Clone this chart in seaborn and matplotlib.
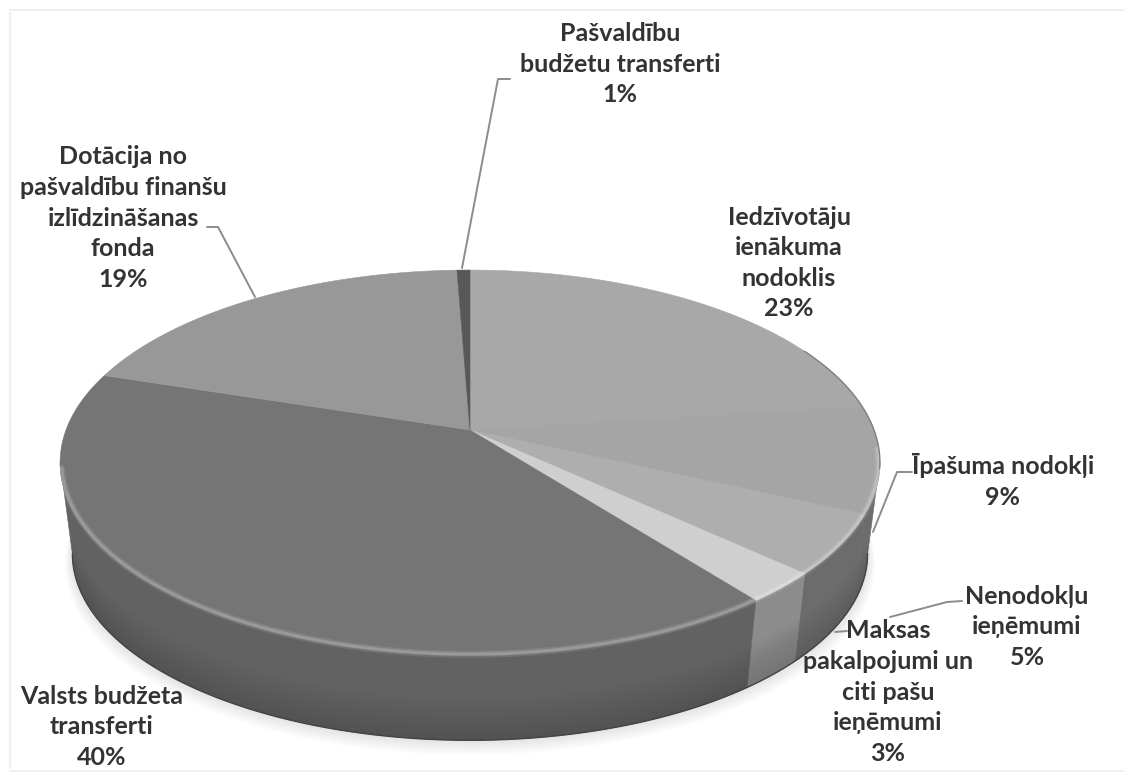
import numpy as np
import pandas as pd

import matplotlib
matplotlib.use('Agg')
import matplotlib.pyplot as plt
import seaborn as sns

# slices, clockwise from the top
categories = ['Iedzīvotāju\nienākuma\nnodoklis', 'Īpašuma nodokļi', 'Nenodokļu\nieņēmumi',
              'Maksas\npakalpojumi un\nciti pašu\nieņēmumi', 'Valsts budžeta\ntransferti',
              'Dotācija no\npašvaldību finanšu\nizlīdzināšanas\nfonda', 'Pašvaldību\nbudžetu transferti']
values = [22.9, 9.0, 5.0, 2.6, 40.45, 19.45, 0.6]

top_colors = ['#a8a8a8', '#a5a5a5', '#aeaeae', '#cfcfcf', '#757575', '#989898', '#585858']
wall_colors = ['#6c6c6c', '#6c6c6c', '#6c6c6c', '#8c8c8c', '#626262', '#626262', '#626262']

label_x = [789, 1003, 1027, 888, 102, 123, 620]
label_y = [263, 481, 627, 692, 727, 218, 64]

sns.set_theme(style='white')
plt.rcParams['font.family'] = ['Lato', 'DejaVu Sans']

df = pd.DataFrame({'name': categories, 'value': values})
df['start'] = df['value'].cumsum().shift(fill_value=0) / df['value'].sum() * 2 * np.pi
df['end'] = df['value'].cumsum() / df['value'].sum() * 2 * np.pi

cx, cy = 470, 430
rx, ry, persp = 404, 187, 0.169
depth = 92
shrink = 0.97


def project(theta, s=1.0, drop=0.0):
    u = np.sin(theta)
    v = np.cos(theta)
    d = 1 + persp * v
    return cx + s * rx * u / d, cy + drop - s * ry * v / d


fig, ax = plt.subplots(figsize=(11.29, 7.73), dpi=100)
ax.set_position([0, 0, 1, 1])
ax.set_xlim(0, 1129)
ax.set_ylim(773, 0)
ax.axis('off')

# faint scan border
ax.plot([10, 10], [12, 768], color='#ececec', lw=1.2)
ax.plot([10, 1124], [10, 10], color='#ececec', lw=1.2)
ax.plot([10, 1124], [771, 771], color='#eeeeee', lw=1.2)

# soft shadow under the pie
t = np.linspace(0, 2 * np.pi, 400)
for i in range(10):
    sx, sy = project(t, shrink + i * 0.002, depth + i * 1.2)
    ax.fill(sx, sy, color='black', alpha=0.012, lw=0)

# side wall, only the part facing the viewer
lo, hi = np.pi / 2 + 0.17, 3 * np.pi / 2 - 0.17
for i, row in df.iterrows():
    a = max(row['start'], lo)
    b = min(row['end'], hi)
    if b <= a:
        continue
    t = np.linspace(a, b, 120)
    x1, y1 = project(t)
    x2, y2 = project(t, shrink, depth)
    ax.fill(np.r_[x1, x2[::-1]], np.r_[y1, y2[::-1]], color=wall_colors[i], lw=0.4,
            edgecolor=wall_colors[i])

# a bit darker towards the bottom edge
t = np.linspace(lo, hi, 300)
x1, y1 = project(t)
x2, y2 = project(t, shrink, depth)
for f in np.linspace(0.5, 0.98, 16):
    x3, y3 = x1 + (x2 - x1) * f, y1 + (y2 - y1) * f
    ax.fill(np.r_[x3, x2[::-1]], np.r_[y3, y2[::-1]], color='black', alpha=0.006, lw=0)
ax.plot(x2, y2, color='#444444', lw=1.0)

# top face
for i, row in df.iterrows():
    t = np.linspace(row['start'], row['end'], 200)
    x, y = project(t)
    ax.fill(np.r_[cx, x], np.r_[cy, y], color=top_colors[i], lw=0.4, edgecolor=top_colors[i])

# light bevel along the front rim
t = np.linspace(np.pi / 2 + 0.1, 3 * np.pi / 2 - 0.2, 300)
for s, w, al in [(0.997, 5, 0.10), (0.997, 2.5, 0.18)]:
    ax.plot(*project(t, s), color='white', lw=w, alpha=al, solid_capstyle='round')

# dark edge on the back right of the top face
t = np.linspace(1.1, np.pi / 2 + 0.2, 100)
ax.plot(*project(t), color='#808080', lw=1.0)

# leader lines
leaders = [([912, 897, 873], [472, 472, 532]),
           ([962, 947, 890], [601, 602, 617]),
           ([847, 835], [631, 632]),
           ([207, 218, 255], [227, 227, 297]),
           ([510, 498, 462], [79, 79, 268])]
for lx, ly in leaders:
    ax.plot(lx, ly, color='#8c8c8c', lw=1.4)

# labels
for i, row in df.iterrows():
    txt = row['name'] + '\n' + f"{row['value']:.0f}%"
    ax.text(label_x[i], label_y[i], txt, ha='center', va='center', fontsize=18,
            fontweight='bold', color='#333333', linespacing=1.4)

fig.savefig('out.png', dpi=100)
